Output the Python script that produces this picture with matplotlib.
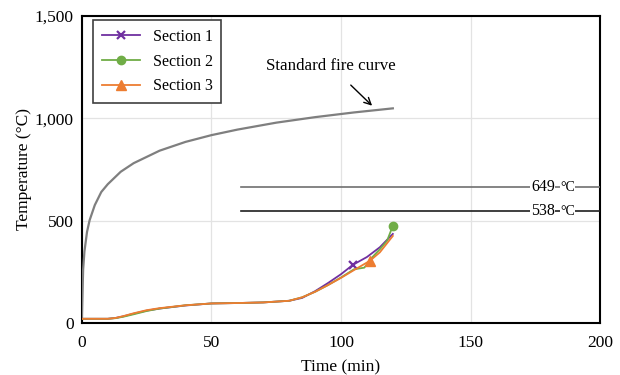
import numpy as np
import matplotlib.pyplot as plt
import matplotlib.ticker as ticker

plt.rcParams['font.family'] = ['Liberation Serif', 'DejaVu Serif']

# --- data
fire_time = [0, 0.5, 1, 2, 3, 5, 7.5, 10, 15, 20, 30, 40, 50, 60, 75, 90, 105, 120]
fire_temp = [20, 261, 349, 445, 502, 576, 640, 678, 739, 781, 842, 885, 918, 945, 979, 1006, 1029, 1049]

s1_time = [0, 5, 10, 13, 16, 20, 25, 30, 40, 50, 60, 70, 80, 85, 90, 95, 100, 104.6, 110, 115, 120]
s1_temp = [20, 20, 20, 24, 32, 45, 60, 70, 85, 95, 97, 100, 108, 122, 155, 195, 238, 284, 322, 370, 435]

s2_time = [0, 5, 10, 13, 16, 20, 25, 30, 40, 50, 60, 70, 80, 85, 90, 95, 100, 105, 109, 112, 115, 117.8, 120]
s2_temp = [20, 20, 20, 23, 30, 42, 58, 70, 86, 95, 97, 100, 108, 125, 152, 185, 222, 262, 270, 320, 360, 402, 475]

s3_time = [0, 5, 10, 13, 16, 20, 25, 30, 40, 50, 60, 70, 80, 85, 90, 95, 100, 105, 111.2, 115, 120]
s3_temp = [20, 20, 20, 24, 33, 47, 62, 72, 86, 95, 97, 100, 108, 125, 152, 185, 220, 258, 304, 345, 425]

limit_temps = [662, 546]
limit_labels = ["649", "538"]

fig = plt.figure(figsize=(6.2, 3.75), dpi=100)
ax = fig.add_axes([0.132, 0.139, 0.836, 0.818])

# --- grid
ax.grid(True, color="#e3e3e3", linewidth=0.9, zorder=0)
ax.set_axisbelow(True)

# --- standard fire curve
ax.plot(fire_time, fire_temp, color="#7f7f7f", linewidth=1.6, zorder=3)

# --- section curves, one marker each
ax.plot(s1_time, s1_temp, color="#7030a0", linewidth=1.3, marker="x",
        markevery=[17], markersize=6, markeredgewidth=1.6, label="Section 1", zorder=4)
ax.plot(s2_time, s2_temp, color="#70ad47", linewidth=1.3, marker="o",
        markevery=[22], markersize=6, label="Section 2", zorder=4)
ax.plot(s3_time, s3_temp, color="#ed7d31", linewidth=1.3, marker="^",
        markevery=[18], markersize=7, label="Section 3", zorder=4)

# --- critical temperature lines
line_colors = ["#6f6f6f", "#1f1f1f"]
for y, lab, c in zip(limit_temps, limit_labels, line_colors):
    ax.plot([61.5, 200], [y, y], color=c, linewidth=1.2, zorder=3)
    ax.text(182.5, y, lab, ha="right", va="center", fontsize=11.5, zorder=5,
            bbox=dict(facecolor="white", edgecolor="none", pad=0.3))
    ax.text(184.5, y, "°C", ha="left", va="center", fontsize=10, zorder=5,
            bbox=dict(facecolor="white", edgecolor="none", pad=0.3))

# --- annotation
ax.annotate("Standard fire curve", xy=(112, 1062), xytext=(96, 1258),
            ha="center", va="center", fontsize=12.2,
            arrowprops=dict(arrowstyle="->", color="black", lw=1.0,
                            shrinkA=9, shrinkB=0))

# --- axes
ax.set_xlim(0, 200)
ax.set_ylim(0, 1500)
ax.xaxis.set_major_locator(ticker.MultipleLocator(50))
ax.yaxis.set_major_locator(ticker.MultipleLocator(500))
ax.yaxis.set_major_formatter(ticker.FuncFormatter(lambda v, p: f"{int(v):,}"))
ax.tick_params(axis="y", labelsize=12.5, length=0, pad=6)
ax.tick_params(axis="x", labelsize=12.5, length=0, pad=9)
ax.set_xlabel("Time (min)", fontsize=12.5, labelpad=6)
ax.set_ylabel("Temperature (°C)", fontsize=12.5, labelpad=2)
for sp in ax.spines.values():
    sp.set_linewidth(1.5)
    sp.set_color("black")

leg = ax.legend(loc="upper left", bbox_to_anchor=(0.021, 0.987), borderaxespad=0,
                fontsize=11.5, frameon=True, fancybox=False, edgecolor="#404040",
                framealpha=1, handlelength=2.4, borderpad=0.55, labelspacing=0.55,
                handletextpad=0.8)
leg.get_frame().set_linewidth(1.2)

fig.savefig("out.png", dpi=100)
